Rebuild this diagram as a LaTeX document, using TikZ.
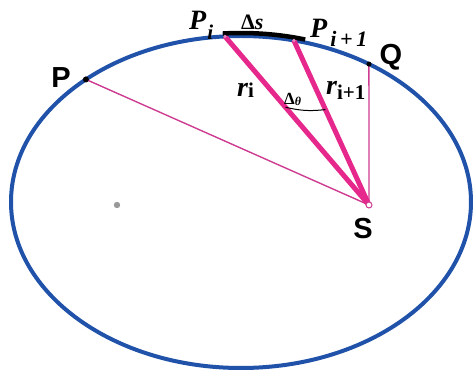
\documentclass[tikz,border=0pt]{standalone}
\usepackage{fontspec}
\setmainfont{Liberation Serif}
\setsansfont{Liberation Sans}
\usetikzlibrary{calc}
\definecolor{orbit}{RGB}{32,82,170}
\definecolor{mag}{RGB}{230,40,140}
\definecolor{magthin}{RGB}{205,60,145}
\newcommand{\fs}[1]{\fontsize{#1}{#1}\selectfont}
\begin{document}
\begin{tikzpicture}[x=1pt,y=1pt,
  orbitline/.style={draw=orbit,line width=4pt},
  radthick/.style={draw=mag,line width=5pt},
  radthin/.style={draw=magthin,line width=1.4pt},
  sflbl/.style={font=\fs{29}\sffamily\bfseries,inner sep=0pt},
  serlbl/.style={font=\fs{28}\bfseries\itshape,inner sep=0pt}]
\useasboundingbox (0,0) rectangle (475,372);
\coordinate (C) at (241,170);
\coordinate (S) at (369,167);
\coordinate (F) at (117,167);
\coordinate (P) at ($(C)+(132.4:230pt and 166pt)$);
\coordinate (Pi) at ($(C)+(94:230pt and 166pt)$);
\coordinate (Pj) at ($(C)+(76.7:230pt and 166pt)$);
\coordinate (Q) at ($(C)+(56.2:230pt and 166pt)$);
\coordinate (ds1) at ($(C)+(94.5:233pt and 169pt)$);
\draw[orbitline] (C) ellipse[x radius=230pt, y radius=166pt];
\draw[radthin] (S) -- (P);
\draw[radthin] (S) -- (Q);
\draw[radthick] (S) -- (Pi);
\draw[radthick] (S) -- (Pj);
\draw[black,line width=4.5pt] (ds1) arc[start angle=94.5,end angle=74,x radius=233pt,y radius=169pt];
\coordinate (a1) at ($(S)!0.58!(Pi)$);
\coordinate (a2) at ($(S)!0.58!(Pj)$);
\draw[black,line width=1pt] (a1) to[bend right=10] (a2);
\fill[black] (P) circle (3pt);
\fill[black] (Q) circle (2.5pt);
\fill[magthin!60!white] (Pi) circle (1.8pt);
\fill[magthin!60!white] (Pj) circle (1.8pt);
\fill[gray!80] (F) circle (3.2pt);
\draw[magthin,fill=white,line width=1pt] (S) circle (3pt);
\node[sflbl] (Plbl) at (61,294) {P};
\node[sflbl] (Qlbl) at (391,315) {Q};
\node[sflbl] (Slbl) at (363,143) {S};
\node[serlbl,anchor=base west] (Pilbl) at (189,342) {P\hspace{1pt}\raisebox{-10pt}{\fs{21}i}};
\node[font=\fs{22}\bfseries,inner sep=0pt,anchor=base west] (dslbl) at (241,342) {Δ\textit{s}};
\node[serlbl,anchor=base west] (Pjlbl) at (310,334) {P\hspace{3pt}\raisebox{-9pt}{\fs{22}i\,+\,1}};
\node[serlbl,anchor=base west] (rilbl) at (237,275) {r\raisebox{-1pt}{\fs{21}\upshape i}};
\node[serlbl,anchor=base west] (rjlbl) at (326,277) {r\raisebox{-5pt}{\fs{21}\upshape i+1}};
\node[font=\fs{17}\bfseries,inner sep=0pt,anchor=base west] (dtlbl) at (284,267) {Δ\raisebox{-1pt}{\fs{12}\itshape θ}};
\end{tikzpicture}
\end{document}
